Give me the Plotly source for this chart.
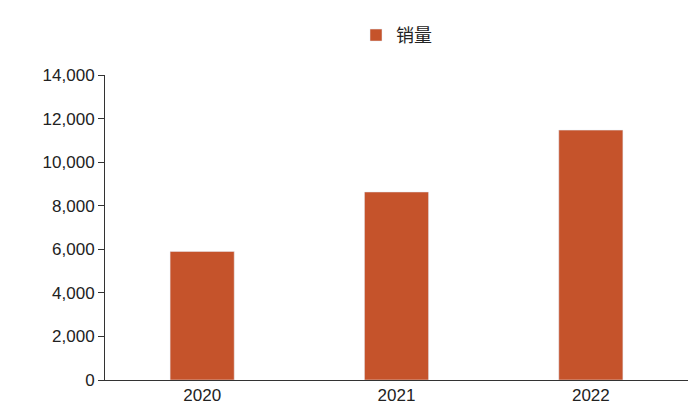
import plotly.graph_objects as go

years = ["2020", "2021", "2022"]
sales = [5900, 8630, 11470]

fig = go.Figure(go.Bar(x=years, y=sales, name="销量", marker_color="#C5532B", showlegend=True))
fig.update_layout(
    width=700, height=420, plot_bgcolor="white", paper_bgcolor="white",
    margin=dict(l=97, r=20, t=67, b=48, autoexpand=False),
    bargap=0.67,
    font=dict(family="Liberation Sans, Arial", size=17, color="#222"),
    legend=dict(orientation="h", x=0.5, xanchor="center", y=1.13, yanchor="middle",
                font=dict(family="Noto Sans CJK SC", size=18)),
    xaxis=dict(showline=True, linecolor="#333", linewidth=1, ticks="outside", ticklen=0),
    yaxis=dict(range=[0, 14000], dtick=2000, tickformat=",", showline=True, linecolor="#333",
               linewidth=1, ticks="outside", ticklen=6, tickcolor="#333", showgrid=False),
)
fig.write_html("out.html")
